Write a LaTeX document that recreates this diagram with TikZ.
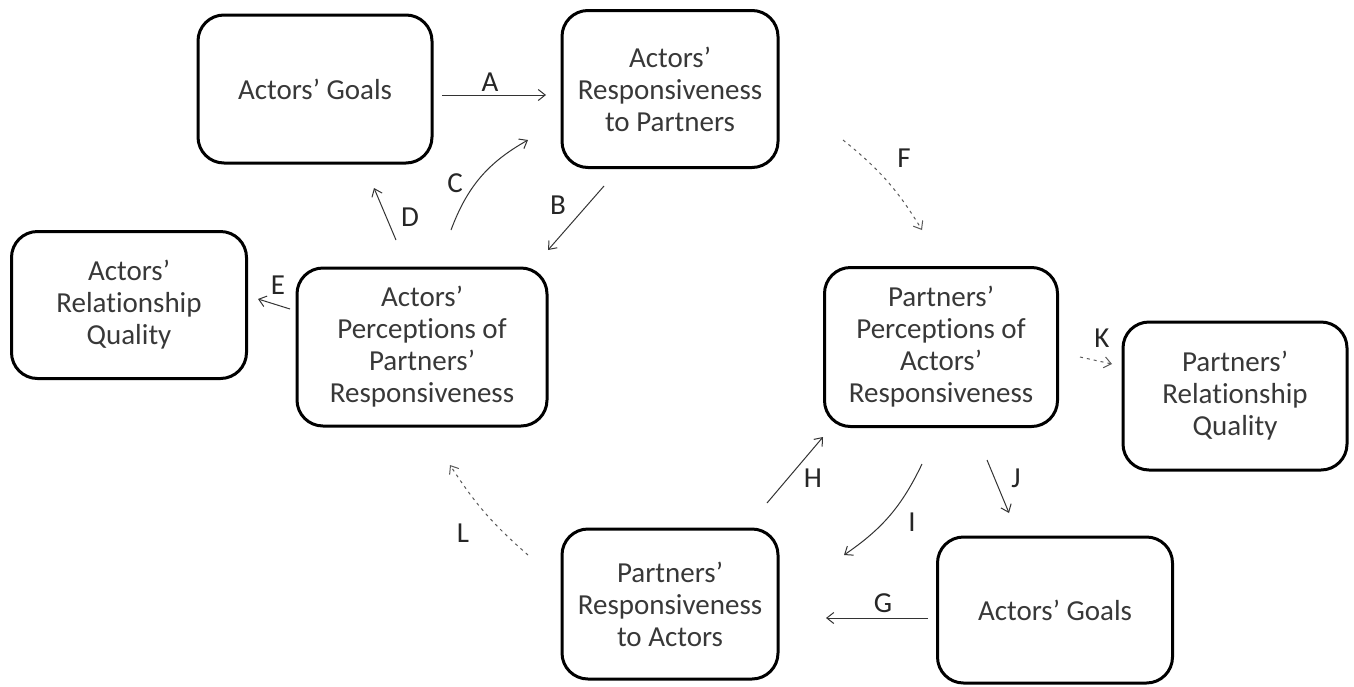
\documentclass[tikz,border=0pt]{standalone}
\usepackage{fontspec}
\setmainfont{Carlito}[Ligatures=NoCommon]
\usetikzlibrary{arrows.meta}
\begin{document}
\begin{tikzpicture}[x=1pt,y=-1pt,
  box/.style={draw=black,line width=3pt,rounded corners=26pt,align=center,text=black!78,font=\fontsize{29}{32}\selectfont,inner sep=0pt},
  lab/.style={text=black!85,font=\fontsize{29}{32}\selectfont,inner sep=0pt},
  arr/.style={line width=1pt,draw=black!80,-{Straight Barb[length=7pt,width=11pt,line width=1pt]}},
  darr/.style={arr,dash pattern=on 3pt off 4pt,draw=black!65}]
\useasboundingbox (0,0) rectangle (1354,686);
% boxes
\node[box,minimum width=234pt,minimum height=148pt] (g1) at (315,89) {Actors’ Goals};
\node[box,minimum width=216pt,minimum height=157pt] (r1) at (670,89) {Actors’\\Responsiveness\\to Partners};
\node[box,minimum width=235pt,minimum height=147pt] (q1) at (129,305) {Actors’\\Relationship\\Quality};
\node[box,minimum width=250pt,minimum height=158pt] (p1) at (422,347) {Actors’\\Perceptions of\\Partners’\\Responsiveness};
\node[box,minimum width=233pt,minimum height=159pt] (p2) at (941,347) {Partners’\\Perceptions of\\Actors’\\Responsiveness};
\node[box,minimum width=224pt,minimum height=148pt] (q2) at (1235,396) {Partners’\\Relationship\\Quality};
\node[box,minimum width=216pt,minimum height=150pt] (r2) at (670,604) {Partners’\\Responsiveness\\to Actors};
\node[box,minimum width=235pt,minimum height=146pt] (g2) at (1055,610) {Actors’ Goals};
% connector end points
\coordinate (a1) at (442,95);  \coordinate (a2) at (546,95);
\coordinate (b1) at (604,186); \coordinate (b2) at (548,250);
\coordinate (c1) at (451,230); \coordinate (c2) at (528,140);
\coordinate (d1) at (396,240); \coordinate (d2) at (374,188);
\coordinate (e1) at (290,309); \coordinate (e2) at (258,299);
\coordinate (f1) at (843,140); \coordinate (f2) at (922,230);
\coordinate (g1s) at (928,618); \coordinate (g2s) at (826,618);
\coordinate (h1) at (767,503); \coordinate (h2) at (823,437);
\coordinate (i1) at (922,464); \coordinate (i2) at (844,555);
\coordinate (j1) at (987,460); \coordinate (j2) at (1009,513);
\coordinate (k1) at (1080,357); \coordinate (k2) at (1112,364);
\coordinate (l1) at (528,555); \coordinate (l2) at (450,465);
% connectors
\draw[arr] (a1) -- (a2);
\draw[arr] (b1) -- (b2);
\draw[arr] (c1) to[bend left=20] (c2);
\draw[arr] (d1) -- (d2);
\draw[arr] (e1) -- (e2);
\draw[darr] (f1) to[bend left=10] (f2);
\draw[arr] (g1s) -- (g2s);
\draw[arr] (h1) -- (h2);
\draw[arr] (i1) to[bend left=15] (i2);
\draw[arr] (j1) -- (j2);
\draw[darr] (k1) -- (k2);
\draw[darr] (l1) to[bend left=8] (l2);
% labels
\node[lab] (lA) at (490,82) {A};
\node[lab] (lB) at (558,205) {B};
\node[lab] (lC) at (455,183) {C};
\node[lab] (lD) at (410,217) {D};
\node[lab] (lE) at (278,285) {E};
\node[lab] (lF) at (904,158) {F};
\node[lab] (lG) at (883,603) {G};
\node[lab] (lH) at (813,478) {H};
\node[lab] (lI) at (912,522) {I};
\node[lab] (lJ) at (1016,478) {J};
\node[lab] (lK) at (1102,338) {K};
\node[lab] (lL) at (463,533) {L};
\end{tikzpicture}
\end{document}
